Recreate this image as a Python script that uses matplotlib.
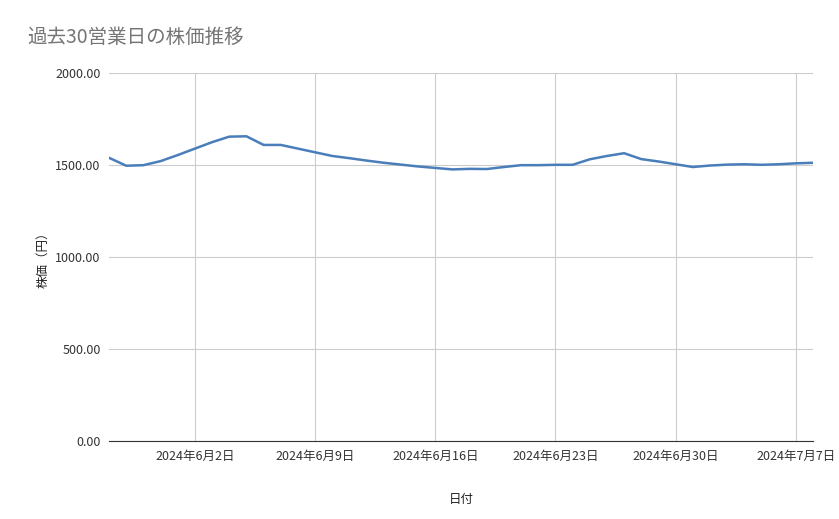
import matplotlib
matplotlib.use("Agg")
import matplotlib.pyplot as plt
import matplotlib.dates as mdates
import pandas as pd

plt.rcParams["font.family"] = ["Noto Sans CJK JP", "DejaVu Sans"]

dates = pd.date_range("2024-05-28", "2024-07-08", freq="D")
prices = [
    1540, 1497, 1500, 1522, 1555, 1590, 1625, 1655, 1657, 1610,
    1610, 1590, 1570, 1550, 1538, 1525, 1513, 1503, 1493, 1485,
    1477, 1480, 1479, 1490, 1500, 1500, 1502, 1502, 1532, 1550,
    1565, 1533, 1520, 1505, 1490, 1498, 1503, 1505, 1502, 1505,
    1510, 1513,
]
tick_dates = pd.to_datetime(
    ["2024-06-02", "2024-06-09", "2024-06-16",
     "2024-06-23", "2024-06-30", "2024-07-07"]
)
tick_labels = [f"{d.year}年{d.month}月{d.day}日" for d in tick_dates]
y_ticks = [0, 500, 1000, 1500, 2000]

fig = plt.figure(figsize=(8.39, 5.19), dpi=100)
ax = fig.add_axes([0.130, 0.150, 0.839, 0.709])

ax.plot(dates, prices, color="#4a7ebb", linewidth=1.8)

ax.set_xlim(dates[0], dates[-1])
ax.set_ylim(0, 2000)
ax.set_xticks(tick_dates)
ax.set_xticklabels(tick_labels, fontsize=9, color="#333333")
ax.set_yticks(y_ticks)
ax.set_yticklabels([f"{v:.2f}" for v in y_ticks], fontsize=9, color="#333333")
ax.tick_params(length=0, pad=6)

ax.grid(True, color="#cccccc", linewidth=0.8)
for side in ["top", "right", "left"]:
    ax.spines[side].set_visible(False)
ax.spines["bottom"].set_color("#333333")

ax.set_ylabel("株価（円）", fontsize=9, color="#222222")
ax.set_xlabel("日付", fontsize=9, color="#222222", labelpad=22)

fig.text(0.033, 0.927, "過去30営業日の株価推移", fontsize=14,
         color="#757575", va="center")

fig.savefig("out.png", dpi=100)
